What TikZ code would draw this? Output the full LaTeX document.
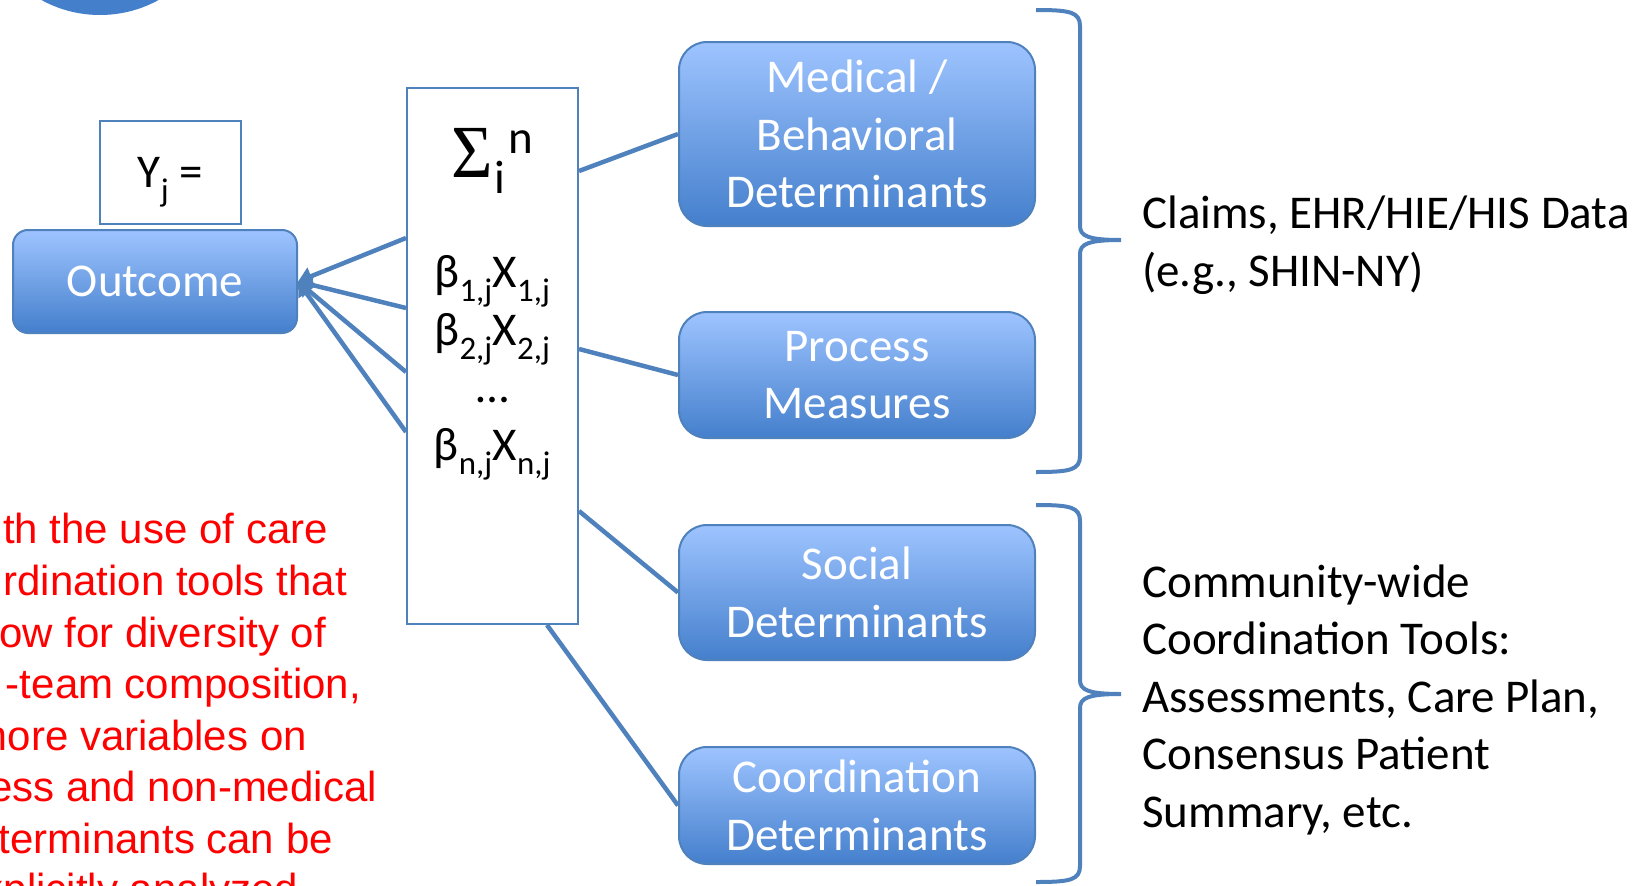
\documentclass[tikz,border=0pt]{standalone}
\usepackage{fontspec}
\setmainfont{Carlito}
\newfontfamily\notefont{Liberation Sans}
\newfontfamily\sigmafont{Liberation Serif}
\usetikzlibrary{arrows.meta,calc}

\definecolor{linkblue}{RGB}{79,129,189}
\definecolor{boxtop}{RGB}{158,196,255}
\definecolor{boxbot}{RGB}{68,127,204}
\definecolor{discblue}{RGB}{68,127,204}
\definecolor{notered}{RGB}{255,0,0}

\tikzset{
  bigtext/.style={font=\fontsize{47}{57.5}\selectfont},
  detbox/.style={bigtext, draw=linkblue, line width=2pt, rounded corners=28pt,
    top color=boxtop, bottom color=boxbot, text=white, align=center, inner sep=0pt},
  plainbox/.style={draw=linkblue, line width=2pt, fill=white, inner sep=0pt},
  term/.style={bigtext, inner sep=0pt, anchor=base},
  link/.style={draw=linkblue, line width=4.5pt},
  feed/.style={link, -{Triangle[length=14pt,width=18pt]}},
  bracket/.style={draw=linkblue, line width=4pt},
  note/.style={font=\notefont\fontsize{42}{51.5}\selectfont, text=notered, inner sep=0pt, anchor=base east},
  side/.style={bigtext, align=left, inner sep=0pt, anchor=base west},
}

\begin{document}
\begin{tikzpicture}[x=1pt,y=-1pt]
\useasboundingbox (0,0) rectangle (1650,886);
\clip (0,0) rectangle (1650,886);

% disc at the top-left corner
\fill[discblue] (100,-107) circle[radius=122pt];

% outcome and its equation label
\node[detbox, rounded corners=15pt, minimum width=284pt, minimum height=103pt] (outcome) at (155,281.5) {Outcome};
\node[plainbox, minimum width=141pt, minimum height=103pt] (yj) at (170.5,172.5) {};
\node[term] (yjlabel) at ($(yj.center)+(0,15)$) {Y\textsubscript{j} =};

% weighted sum
\node[plainbox, minimum width=171pt, minimum height=536pt] (sum) at (492.5,356) {};
\node[bigtext, inner sep=0pt, anchor=base west] (sigma) at (451,177)
  {{\sigmafont\fontsize{75}{75}\selectfont\scalebox{0.95}[1]{Σ}}\kern2pt\raisebox{-16pt}{i}\kern3pt\raisebox{24pt}{n}};
\node[term] (b1) at (492.5,287) {β\textsubscript{1,j}X\textsubscript{1,j}};
\node[term] (b2) at (492.5,345) {β\textsubscript{2,j}X\textsubscript{2,j}};
\node[term] (dots) at (492.5,402) {…};
\node[term] (bn) at (492.5,460) {β\textsubscript{n,j}X\textsubscript{n,j}};

% determinant groups
\node[detbox, minimum width=356pt, minimum height=184pt] (med) at (857,134) {Medical /\\Behavioral\\Determinants};
\node[detbox, minimum width=356pt, minimum height=126pt] (proc) at (857,375) {Process\\Measures};
\node[detbox, minimum width=356pt, minimum height=135pt] (soc) at (857,592.5) {Social\\Determinants};
\node[detbox, minimum width=356pt, minimum height=117pt] (coord) at (857,805.5) {Coordination\\Determinants};

% links from the sum to the determinants
\draw[link] ($(sum.north east)+(0,84)$) -- (med.west);
\draw[link] ($(sum.north east)+(0,262)$) -- (proc.west);
\draw[link] ($(sum.north east)+(0,424)$) -- (soc.west);
\draw[link] ($(sum.south west)+(141,0)$) -- (coord.west);

% terms feeding the outcome
\draw[feed] ($(sum.north west)+(0,151)$) -- (outcome.east);
\draw[feed] ($(sum.north west)+(0,221)$) -- (outcome.east);
\draw[feed] ($(sum.north west)+(0,285)$) -- (outcome.east);
\draw[feed] ($(sum.north west)+(0,345)$) -- (outcome.east);

% braces with their data sources
\draw[bracket] (1036,10) .. controls (1070,10) and (1080,12) .. (1080,26) -- (1080,226)
  .. controls (1080,236) and (1088,240) .. (1121,240)
  .. controls (1088,240) and (1080,244) .. (1080,254) -- (1080,456)
  .. controls (1080,470) and (1070,472) .. (1036,472);
\draw[bracket] (1036,505) .. controls (1070,505) and (1080,507) .. (1080,521) -- (1080,680)
  .. controls (1080,690) and (1088,694) .. (1121,694)
  .. controls (1088,694) and (1080,698) .. (1080,708) -- (1080,866)
  .. controls (1080,880) and (1070,882) .. (1036,882);

\node[side] (claims) at (1142,286) {Claims, EHR/HIE/HIS Data\\(e.g., SHIN-NY)};
\node[side] (tools) at (1142,827) {Community-wide\\Coordination Tools:\\Assessments, Care Plan,\\Consensus Patient\\Summary, etc.};

% note at the lower left
\node[note] (n1) at (328,543.5) {th the use of care};
\node[note] (n2) at (347,595) {rdination tools that};
\node[note] (n3) at (326,647) {ow for diversity of};
\node[note] (n4) at (361,698.5) {-team composition,};
\node[note] (n5) at (307,750) {more variables on};
\node[note] (n6) at (377,801.5) {ess and non-medical};
\node[note] (n7) at (333,853) {terminants can be};
\node[note] (n8) at (310,903) {xplicitly analyzed.};
\end{tikzpicture}
\end{document}
